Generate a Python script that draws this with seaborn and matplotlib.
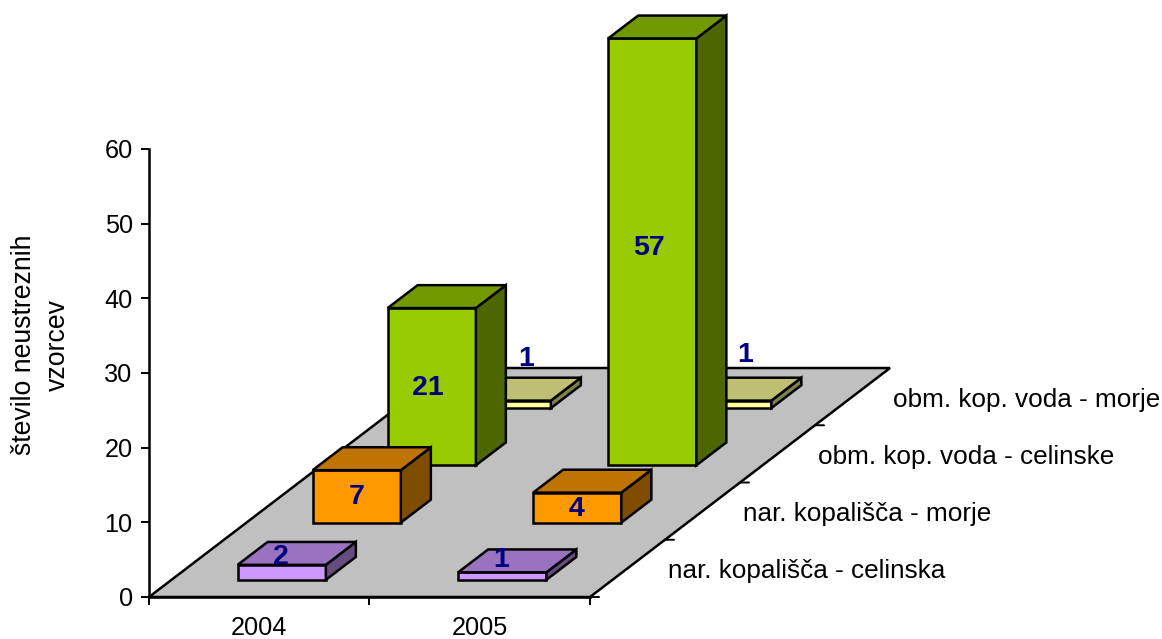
import matplotlib
matplotlib.use("Agg")
import matplotlib.pyplot as plt
import seaborn as sns

years = ["2004", "2005"]
series = ["nar. kopališča - celinska", "nar. kopališča - morje",
          "obm. kop. voda - celinske", "obm. kop. voda - morje"]
vals_2004 = [2, 7, 21, 1]
vals_2005 = [1, 4, 57, 1]
front_colors = ["#CC99FF", "#FF9900", "#99CC00", "#FFFF99"]
y_ticks = [0, 10, 20, 30, 40, 50, 60]

sns.set_theme(style="white")
plt.rcParams["font.family"] = ["Liberation Sans", "DejaVu Sans"]

W, H = 1162, 639
fig = plt.figure(figsize=(W / 100, H / 100), dpi=100)
ax = fig.add_axes([149 / W, (H - 597) / H, 441 / W, 448 / H])
ax.set_xlim(0, len(years))
ax.set_ylim(0, 60)

# oblique projection: one depth step in data units of the two axes
DX = 75 / 220.5
DY = 57.25 / 7.467
BAR = 0.4
GAIN = 1.003
LW = 1.8


def proj(x, d, v):
    return x + d * DX, v + d * DY


def face(points, color, z):
    pts = [proj(*p) for p in points]
    ax.fill([p[0] for p in pts], [p[1] for p in pts], facecolor=color,
            edgecolor="black", linewidth=LW, clip_on=False, zorder=z,
            joinstyle="miter")


def shade(hex_color, k):
    r, g, b = matplotlib.colors.to_rgb(hex_color)
    return (r * k, g * k, b * k)


nd = len(series)
ny = len(years)
face([(0, 0, 0), (ny, 0, 0), (ny, nd, 0), (0, nd, 0)], "#C0C0C0", 1)

z = 2
values = [vals_2004, vals_2005]
# label nudges in pixels relative to the middle of the front face
nudge = {(0, 0): (-1, 15), (1, 0): (-1, 16), (0, 1): (0, -1), (1, 1): (-1, -1),
         (0, 2): (-4, -1), (1, 2): (-3, 3.5), (0, 3): (19, 45), (1, 3): (18, 49)}

for d in reversed(range(nd)):
    for yi in range(ny):
        v = values[yi][d] * GAIN
        c = front_colors[d]
        x0, x1 = yi + (1 - BAR) / 2, yi + (1 + BAR) / 2
        d0, d1 = d + (1 - BAR) / 2, d + (1 + BAR) / 2
        face([(x0, d0, 0), (x1, d0, 0), (x1, d0, v), (x0, d0, v)], c, z)
        face([(x1, d0, 0), (x1, d1, 0), (x1, d1, v), (x1, d0, v)], shade(c, 0.5), z)
        face([(x0, d0, v), (x1, d0, v), (x1, d1, v), (x0, d1, v)], shade(c, 0.75), z)
        z += 1
        nx, ny_px = nudge[(yi, d)]
        ax.annotate(str(values[yi][d]), xy=proj((x0 + x1) / 2, d0, v / 2),
                    xytext=(nx * 0.72, ny_px * 0.72), textcoords="offset points",
                    ha="center", va="center", fontsize=20.5, fontweight="bold",
                    color="#000080", zorder=50, annotation_clip=False)

# depth axis ticks and labels
for d in range(nd):
    x, y = proj(ny, d, 0)
    ax.annotate("", xy=(x, y), xytext=(9 * 0.72, 0), textcoords="offset points",
                arrowprops=dict(arrowstyle="-", color="black", lw=1.4,
                                shrinkA=0, shrinkB=0), annotation_clip=False)
    x, y = proj(ny, d + 0.5, 0)
    ax.annotate(series[d], xy=(x, y), xytext=(41 * 0.72, -3 * 0.72),
                textcoords="offset points", ha="left", va="center",
                fontsize=18.8, color="black", annotation_clip=False)

sns.despine(ax=ax, top=True, right=True)
for s in ("left", "bottom"):
    ax.spines[s].set_color("black")
    ax.spines[s].set_linewidth(LW)
    ax.spines[s].set_zorder(60)
ax.patch.set_alpha(0)

ax.set_yticks(y_ticks)
ax.set_xticks(range(ny + 1))
ax.set_xticklabels([])
ax.set_xticks([i + 0.5 for i in range(ny)], labels=years, minor=True)
ax.tick_params(axis="both", which="major", length=8 * 0.72, width=1.4,
               color="black", left=True, bottom=True, labelsize=18.2,
               labelcolor="black", pad=6)
ax.tick_params(axis="x", which="minor", length=0, labelsize=18.2,
               labelcolor="black", pad=13.5, bottom=True)

ax.set_ylabel("število neustreznih\nvzorcev", fontsize=19.2, color="black",
              va="center", linespacing=1.43)
ax.yaxis.set_label_coords((41 - 149) / 441, (597 - 345) / 448)

fig.savefig("out.png", dpi=100, facecolor="white")
